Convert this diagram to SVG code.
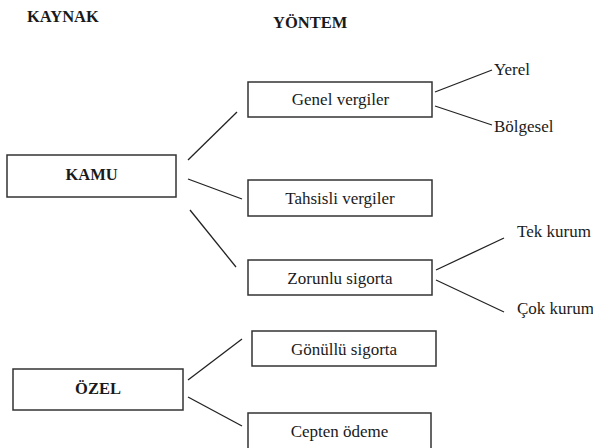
<svg xmlns="http://www.w3.org/2000/svg" width="593" height="448" viewBox="0 0 593 448">
<style>
.box{fill:#fff;stroke:#333;stroke-width:1.5}
text{font-family:"Liberation Serif","Times New Roman",serif;font-size:17px;fill:#1a1a1a}
.mid{text-anchor:middle}
.bold{font-weight:bold;font-size:16.5px}
.ln{stroke:#222;stroke-width:1.3;fill:none}
</style>
<rect width="593" height="448" fill="#fff"/>
<g id="headers">
<text class="bold" x="27" y="22">KAYNAK</text>
<text class="bold" x="273" y="27.5">YÖNTEM</text>
</g>
<g id="connectors">
<line class="ln" x1="188" y1="160" x2="237" y2="112"/>
<line class="ln" x1="188" y1="179" x2="242" y2="199"/>
<line class="ln" x1="190" y1="210" x2="236" y2="267"/>
<line class="ln" x1="188" y1="380" x2="242" y2="339"/>
<line class="ln" x1="188" y1="397" x2="242" y2="426"/>
<line class="ln" x1="435" y1="92" x2="492" y2="70"/>
<line class="ln" x1="435" y1="106" x2="492" y2="125"/>
<line class="ln" x1="436" y1="270" x2="504" y2="238"/>
<line class="ln" x1="436" y1="280" x2="504" y2="312"/>
</g>
<g id="kamu">
<rect class="box" x="7" y="155" width="169" height="42"/>
<text class="bold mid" x="91.5" y="180">KAMU</text>
</g>
<g id="ozel">
<rect class="box" x="13" y="369" width="170" height="41"/>
<text class="bold mid" x="98" y="394">ÖZEL</text>
</g>
<g id="genel">
<rect class="box" x="248" y="82" width="184" height="35"/>
<text class="mid" x="340.5" y="105">Genel vergiler</text>
</g>
<g id="tahsisli">
<rect class="box" x="248" y="180" width="184" height="36"/>
<text class="mid" x="340" y="204">Tahsisli vergiler</text>
</g>
<g id="zorunlu">
<rect class="box" x="248" y="260" width="184" height="35"/>
<text class="mid" x="340" y="284">Zorunlu sigorta</text>
</g>
<g id="gonullu">
<rect class="box" x="252" y="331" width="184" height="35"/>
<text class="mid" x="344" y="355">Gönüllü sigorta</text>
</g>
<g id="cepten">
<rect class="box" x="248" y="413" width="183" height="40"/>
<text class="mid" x="339.5" y="437">Cepten ödeme</text>
</g>
<g id="yerel"><text x="494" y="75">Yerel</text></g>
<g id="bolgesel"><text x="494" y="132">Bölgesel</text></g>
<g id="tek"><text x="517" y="237">Tek kurum</text></g>
<g id="cok"><text x="517" y="313.5">Çok kurum</text></g>
</svg>
